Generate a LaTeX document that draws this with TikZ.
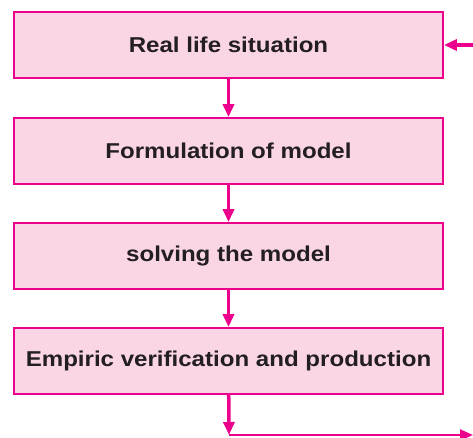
\documentclass[tikz,border=0pt]{standalone}
\usepackage{fontspec}
\setmainfont{Liberation Sans}[FakeStretch=1.12]
\usetikzlibrary{arrows.meta}
\definecolor{flowpink}{RGB}{236,0,140}
\definecolor{flowfill}{RGB}{250,213,230}
\definecolor{flowtext}{RGB}{35,31,32}

\begin{document}
\begin{tikzpicture}[x=1pt,y=1pt]

%
% Styles
%
\tikzstyle{stage} = [rectangle,draw=flowpink,fill=flowfill,line width=1.8pt,
  minimum width=429pt,minimum height=66pt,inner sep=0pt,
  text=flowtext,font=\fontsize{21.5}{25}\selectfont\bfseries]
\tikzstyle{flow} = [draw=flowpink,line width=3.5pt,
  -{Triangle[length=13pt,width=11pt]}]

\useasboundingbox (0,0) rectangle (473,-437);

\node[stage] (real)  at (228.5, -45)  {Real life situation};
\node[stage] (form)  at (228.5,-151)  {Formulation of model};
\node[stage] (solve) at (228.5,-256)  {solving the model};
\node[stage] (emp)   at (228.5,-361)  {Empiric verification and production};

\coordinate (corner) at (229,-435);
\coordinate (exit)   at (473,-435);
\coordinate (entry)  at (473, -45);

\draw[flow] (real) -- (form);
\draw[flow] (form) -- (solve);
\draw[flow] (solve) -- (emp);
\draw[flow] (emp) -- (corner);
\draw[flow,line width=2.5pt] (corner) -- (exit);
\draw[flow] (entry) -- (real);

\end{tikzpicture}
\end{document}
